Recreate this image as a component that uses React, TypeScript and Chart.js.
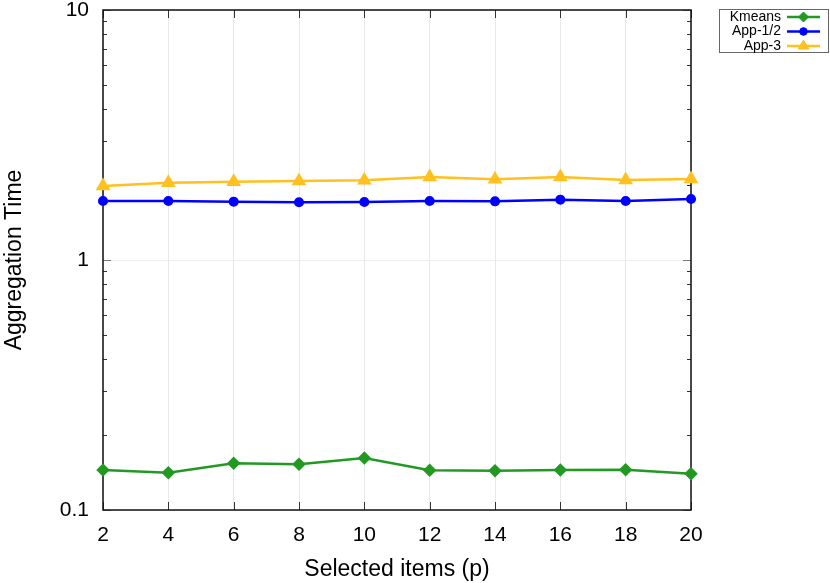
import React, { useEffect, useRef } from "react";
import { Chart, registerables } from "chart.js";

Chart.register(...registerables);

const xValues = [2, 4, 6, 8, 10, 12, 14, 16, 18, 20];
const kmeans = [0.1445, 0.141, 0.1538, 0.1524, 0.1614, 0.1441, 0.1436, 0.1445, 0.1449, 0.1397];
const app12 = [1.722, 1.722, 1.711, 1.702, 1.706, 1.722, 1.717, 1.743, 1.722, 1.754];
const app3 = [1.977, 2.038, 2.057, 2.07, 2.084, 2.148, 2.103, 2.148, 2.089, 2.109];
const yMajorTicks = [0.1, 1, 10];
const yMinorTicks = [0.2, 0.3, 0.4, 0.5, 0.6, 0.7, 0.8, 0.9, 2, 3, 4, 5, 6, 7, 8, 9];
const xTickValues = [2, 4, 6, 8, 10, 12, 14, 16, 18, 20];

const FONT = "'Liberation Sans', Arial, Helvetica, sans-serif";

function drawMarker(ctx: CanvasRenderingContext2D, style: string, x: number, y: number, r: number, color: string) {
  ctx.save();
  ctx.fillStyle = color;
  ctx.strokeStyle = color;
  ctx.lineWidth = 1;
  ctx.beginPath();
  if (style === "circle") {
    ctx.arc(x, y, r, 0, Math.PI * 2);
  } else if (style === "rectRot") {
    ctx.moveTo(x, y - r);
    ctx.lineTo(x + r, y);
    ctx.lineTo(x, y + r);
    ctx.lineTo(x - r, y);
    ctx.closePath();
  } else {
    const h = r * 1.5;
    ctx.moveTo(x, y - h * 0.66);
    ctx.lineTo(x + r * 0.9, y + h * 0.34);
    ctx.lineTo(x - r * 0.9, y + h * 0.34);
    ctx.closePath();
  }
  ctx.fill();
  ctx.stroke();
  ctx.restore();
}

const framePlugin = {
  id: "gnuframe",
  beforeDatasetsDraw(chart: any) {
    const { ctx, chartArea } = chart;
    const { left, right, top, bottom } = chartArea;
    const xs = chart.scales.x;
    const ys = chart.scales.y;
    ctx.save();
    ctx.strokeStyle = "#333";
    ctx.lineWidth = 1;
    ctx.beginPath();
    yMinorTicks.forEach((v) => {
      const py = Math.round(ys.getPixelForValue(v)) + 0.5;
      ctx.moveTo(left, py);
      ctx.lineTo(left + 4, py);
      ctx.moveTo(right, py);
      ctx.lineTo(right - 4, py);
    });
    ctx.stroke();
    ctx.strokeStyle = "#777";
    ctx.lineWidth = 1.2;
    ctx.beginPath();
    yMajorTicks.forEach((v) => {
      const py = Math.round(ys.getPixelForValue(v)) + 0.5;
      ctx.moveTo(left, py);
      ctx.lineTo(left + 8, py);
      ctx.moveTo(right, py);
      ctx.lineTo(right - 8, py);
    });
    ctx.stroke();
    ctx.strokeStyle = "#333";
    ctx.lineWidth = 1;
    ctx.beginPath();
    xTickValues.forEach((v) => {
      const px = Math.round(xs.getPixelForValue(v)) + 0.5;
      ctx.moveTo(px, bottom);
      ctx.lineTo(px, bottom - 8);
      ctx.moveTo(px, top);
      ctx.lineTo(px, top + 8);
    });
    ctx.stroke();
    ctx.strokeStyle = "#111";
    ctx.lineWidth = 1.5;
    ctx.strokeRect(left, top, right - left, bottom - top);
    ctx.restore();
  },
  afterDraw(chart: any) {
    const { ctx } = chart;
    ctx.save();
    ctx.strokeStyle = "#666";
    ctx.lineWidth = 1;
    ctx.strokeRect(719.5, 9.5, 109, 43);
    ctx.font = `14px ${FONT}`;
    ctx.textAlign = "right";
    ctx.textBaseline = "middle";
    chart.data.datasets.forEach((ds: any, i: number) => {
      const y = 17 + i * 14.5;
      ctx.fillStyle = "#000";
      ctx.fillText(ds.label, 781, y);
      ctx.strokeStyle = ds.borderColor;
      ctx.lineWidth = 2.5;
      ctx.beginPath();
      ctx.moveTo(787, y);
      ctx.lineTo(820, y);
      ctx.stroke();
      drawMarker(ctx, ds.pointStyle, 803.5, y, ds.pointRadius, ds.borderColor);
    });
    ctx.restore();
  },
};

export default function App() {
  const ref = useRef<HTMLCanvasElement | null>(null);
  useEffect(() => {
    if (!ref.current) return;
    const chart = new Chart(ref.current, {
      type: "line",
      data: {
        datasets: [
          {
            label: "Kmeans",
            data: xValues.map((x, i) => ({ x, y: kmeans[i] })),
            borderColor: "#229922",
            backgroundColor: "#229922",
            pointBackgroundColor: "#229922",
            pointStyle: "rectRot",
            pointRadius: 5,
            borderWidth: 2.5,
            clip: false,
          },
          {
            label: "App-1/2",
            data: xValues.map((x, i) => ({ x, y: app12[i] })),
            borderColor: "#0000ff",
            backgroundColor: "#0000ff",
            pointBackgroundColor: "#0000ff",
            pointStyle: "circle",
            pointRadius: 3.8,
            borderWidth: 2.5,
            clip: false,
          },
          {
            label: "App-3",
            data: xValues.map((x, i) => ({ x, y: app3[i] })),
            borderColor: "#ffc020",
            backgroundColor: "#ffc020",
            pointBackgroundColor: "#ffc020",
            pointStyle: "triangle",
            pointRadius: 6,
            borderWidth: 2.5,
            clip: false,
          },
        ] as any,
      },
      options: {
        animation: false,
        responsive: false,
        devicePixelRatio: 1,
        layout: { padding: { top: 10, right: 139, left: 0, bottom: 0 } },
        plugins: { legend: { display: false }, tooltip: { enabled: false } },
        scales: {
          x: {
            type: "linear",
            min: 2,
            max: 20,
            afterBuildTicks: (s: any) => {
              s.ticks = xTickValues.map((v) => ({ value: v }));
            },
            afterFit: (s: any) => {
              s.height = 73;
              s.paddingLeft = 0;
              s.paddingRight = 0;
            },
            ticks: {
              font: { family: FONT, size: 21 },
              color: "#000",
              padding: 13,
              maxRotation: 0,
              autoSkip: false,
            },
            grid: { color: "#e8e8e8", lineWidth: 1, drawTicks: false },
            border: { display: false },
            title: {
              display: true,
              text: "Selected items (p)",
              font: { family: FONT, size: 23 },
              color: "#000",
              padding: { top: 0, bottom: 0 },
            },
          },
          y: {
            type: "logarithmic",
            min: 0.1,
            max: 10,
            afterBuildTicks: (s: any) => {
              s.ticks = yMajorTicks.map((v) => ({ value: v, major: true }));
            },
            afterFit: (s: any) => {
              s.width = 103;
              s.paddingTop = 0;
              s.paddingBottom = 0;
            },
            ticks: {
              font: { family: FONT, size: 21 },
              color: "#000",
              padding: 14,
              autoSkip: false,
              callback: (v: any) => String(v),
            },
            grid: { color: "#eeeeee", lineWidth: 1, drawTicks: false },
            border: { display: false },
            title: {
              display: true,
              text: "Aggregation Time",
              font: { family: FONT, size: 23 },
              color: "#000",
              padding: { top: 1, bottom: 0 },
            },
          },
        },
      } as any,
      plugins: [framePlugin],
    });
    return () => chart.destroy();
  }, []);
  return (
    <div style={{ position: "absolute", left: 0, top: 0, width: 830, height: 583, background: "#fff" }}>
      <canvas ref={ref} width={830} height={583} />
    </div>
  );
}
